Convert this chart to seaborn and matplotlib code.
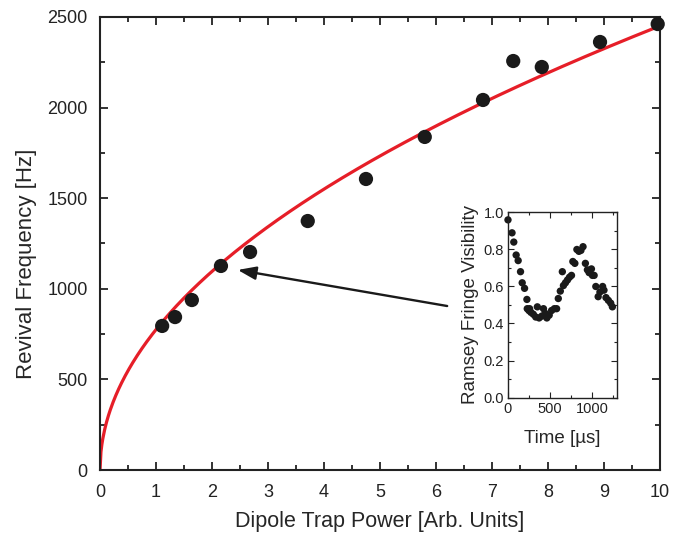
import matplotlib
matplotlib.use("Agg")
import matplotlib.pyplot as plt
import seaborn as sns
import numpy as np
import pandas as pd
from matplotlib.ticker import MultipleLocator, FormatStrFormatter

# Main data
power = [1.11, 1.34, 1.64, 2.16, 2.68, 3.71, 4.75, 5.80, 6.84, 7.38, 7.89, 8.93, 9.96]
revival_freq = [795, 844, 938, 1126, 1203, 1374, 1606, 1838, 2042, 2257, 2224, 2362, 2461]

# Fit: f = A * sqrt(P)
fit_coeff = 775.0

# Inset data
time_us = [0, 48, 69, 97, 121, 149, 169, 197, 225, 229, 249, 257, 273, 301, 330, 349, 370,
           402, 422, 442, 462, 490, 518, 551, 578, 598, 622, 646, 659, 683, 707, 731, 755,
           771, 795, 819, 843, 867, 892, 920, 944, 964, 992, 1004, 1024, 1044, 1072, 1093,
           1125, 1141, 1165, 1193, 1221, 1241]
visibility = [0.96, 0.89, 0.84, 0.77, 0.74, 0.68, 0.62, 0.59, 0.53, 0.48, 0.47, 0.48, 0.46,
              0.45, 0.435, 0.49, 0.43, 0.44, 0.48, 0.455, 0.43, 0.445, 0.47, 0.48, 0.48,
              0.535, 0.575, 0.68, 0.605, 0.62, 0.635, 0.65, 0.66, 0.735, 0.725, 0.80, 0.79,
              0.795, 0.815, 0.725, 0.69, 0.675, 0.695, 0.66, 0.66, 0.60, 0.545, 0.57, 0.60,
              0.58, 0.54, 0.525, 0.51, 0.49]

sns.set_style("ticks")
plt.rcParams['font.family'] = ['Liberation Sans', 'DejaVu Sans']

fig = plt.figure(figsize=(6.86, 5.39), dpi=100)
ax = fig.add_axes([0.1458, 0.128, 0.962 - 0.1458, 0.9685 - 0.128])

df_main = pd.DataFrame({"P": power, "F": revival_freq})
xs = np.linspace(0, 10, 600)
df_fit = pd.DataFrame({"P": xs, "F": fit_coeff * np.sqrt(xs)})

sns.lineplot(data=df_fit, x="P", y="F", ax=ax, color="#e61e28", linewidth=2.3, zorder=2)
sns.scatterplot(data=df_main, x="P", y="F", ax=ax, color="#1a1a1a", s=105,
                edgecolor="none", zorder=3, clip_on=False)

ax.set_xlim(0, 10)
ax.set_ylim(0, 2500)
ax.xaxis.set_major_locator(MultipleLocator(1))
ax.xaxis.set_minor_locator(MultipleLocator(0.5))
ax.yaxis.set_major_locator(MultipleLocator(500))
ax.yaxis.set_minor_locator(MultipleLocator(250))
ax.tick_params(which="both", direction="in", top=True, right=True, width=1.3, colors="#222222",
               labelsize=13)
ax.tick_params(axis="x", which="major", pad=10)
ax.tick_params(axis="y", which="major", pad=9)
ax.tick_params(which="major", length=6)
ax.tick_params(which="minor", length=3.5)
for sp in ax.spines.values():
    sp.set_linewidth(1.5)
    sp.set_color("#222222")
ax.set_xlabel("Dipole Trap Power [Arb. Units]", fontsize=15.5, labelpad=7)
ax.set_ylabel("Revival Frequency [Hz]", fontsize=16, labelpad=8)
ax.yaxis.set_label_coords(-0.112, 0.455)

ax.annotate("", xy=(2.46, 1104), xytext=(6.20, 905),
            arrowprops=dict(arrowstyle="-|>,head_length=1.1,head_width=0.4",
                            color="#1a1a1a", lw=1.7, shrinkA=0, shrinkB=0))

# Inset
axi = fig.add_axes([0.7405, 0.2625, 0.8987 - 0.7405, 0.6058 - 0.2625])
df_ins = pd.DataFrame({"t": time_us, "v": visibility})
sns.scatterplot(data=df_ins, x="t", y="v", ax=axi, color="#1a1a1a", s=28,
                edgecolor="none", clip_on=False)
axi.set_xlim(0, 1290)
axi.set_ylim(0, 1.0)
axi.xaxis.set_major_locator(MultipleLocator(500))
axi.xaxis.set_minor_locator(MultipleLocator(250))
axi.yaxis.set_major_locator(MultipleLocator(0.2))
axi.yaxis.set_minor_locator(MultipleLocator(0.1))
axi.yaxis.set_major_formatter(FormatStrFormatter("%.1f"))
axi.tick_params(which="both", direction="in", top=True, right=True, width=0.8,
                colors="#222222", labelsize=10.5, pad=3)
axi.tick_params(which="major", length=4)
axi.tick_params(which="minor", length=2.5)
for sp in axi.spines.values():
    sp.set_linewidth(1.0)
    sp.set_color("#222222")
axi.set_xlabel("Time [\u00b5s]", fontsize=13.5, labelpad=10)
axi.set_ylabel("Ramsey Fringe Visibility", fontsize=13.5, labelpad=3)

fig.savefig("out.png", dpi=100)
